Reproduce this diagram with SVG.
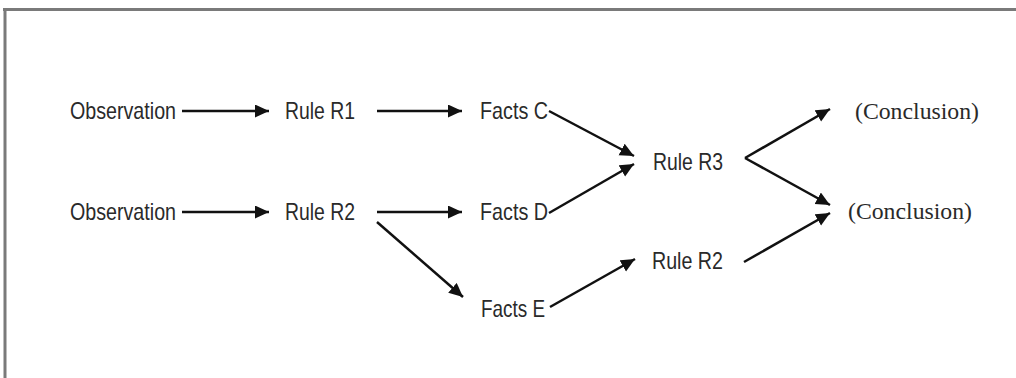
<svg xmlns="http://www.w3.org/2000/svg" width="1016" height="378" viewBox="0 0 1016 378">
<style>
.sans{font-family:"Liberation Sans",Arial,sans-serif;font-size:24px;fill:#2a2a2a}
.serif{font-family:"Liberation Serif","Times New Roman",serif;font-size:24px;fill:#2a2a2a}
.edge{stroke:#111;stroke-width:2.5;fill:none;marker-end:url(#ah)}
</style>
<defs>
<marker id="ah" markerUnits="userSpaceOnUse" markerWidth="16" markerHeight="14" refX="14" refY="6.5" orient="auto">
<path d="M0,0 L14,6.5 L0,13 z" fill="#111"/>
</marker>
</defs>
<rect width="1016" height="378" fill="#fff"/>
<g id="frame">
<line x1="3" y1="9.5" x2="1016" y2="9.5" stroke="#7a7a7a" stroke-width="3"/>
<line x1="5" y1="8" x2="5" y2="378" stroke="#7a7a7a" stroke-width="3"/>
</g>
<g id="connectors">
<line class="edge" x1="182" y1="111" x2="269" y2="111"/>
<line class="edge" x1="377" y1="111" x2="462" y2="111"/>
<line class="edge" x1="549" y1="111" x2="634" y2="156"/>
<line class="edge" x1="182" y1="212" x2="269" y2="212"/>
<line class="edge" x1="377" y1="212" x2="462" y2="212"/>
<line class="edge" x1="549" y1="213" x2="634" y2="164"/>
<line class="edge" x1="377" y1="222" x2="463" y2="297"/>
<line class="edge" x1="550" y1="307" x2="635" y2="259"/>
<line class="edge" x1="745" y1="158" x2="830" y2="109"/>
<line class="edge" x1="745" y1="158" x2="830" y2="205"/>
<line class="edge" x1="744" y1="262" x2="830" y2="213"/>
</g>
<g id="obs1"><text class="sans" x="70" y="119" textLength="106" lengthAdjust="spacingAndGlyphs">Observation</text></g>
<g id="r1"><text class="sans" x="285" y="119" textLength="70" lengthAdjust="spacingAndGlyphs">Rule R1</text></g>
<g id="fc"><text class="sans" x="480" y="119" textLength="68" lengthAdjust="spacingAndGlyphs">Facts C</text></g>
<g id="obs2"><text class="sans" x="70" y="220" textLength="106" lengthAdjust="spacingAndGlyphs">Observation</text></g>
<g id="r2"><text class="sans" x="285" y="220" textLength="70" lengthAdjust="spacingAndGlyphs">Rule R2</text></g>
<g id="fd"><text class="sans" x="480" y="220" textLength="68" lengthAdjust="spacingAndGlyphs">Facts D</text></g>
<g id="fe"><text class="sans" x="481" y="317" textLength="64" lengthAdjust="spacingAndGlyphs">Facts E</text></g>
<g id="r3"><text class="sans" x="653" y="170" textLength="70" lengthAdjust="spacingAndGlyphs">Rule R3</text></g>
<g id="r2b"><text class="sans" x="652" y="269" textLength="71" lengthAdjust="spacingAndGlyphs">Rule R2</text></g>
<g id="c1"><text class="serif" x="855" y="119" textLength="124" lengthAdjust="spacingAndGlyphs">(Conclusion)</text></g>
<g id="c2"><text class="serif" x="848" y="219" textLength="124" lengthAdjust="spacingAndGlyphs">(Conclusion)</text></g>
</svg>
